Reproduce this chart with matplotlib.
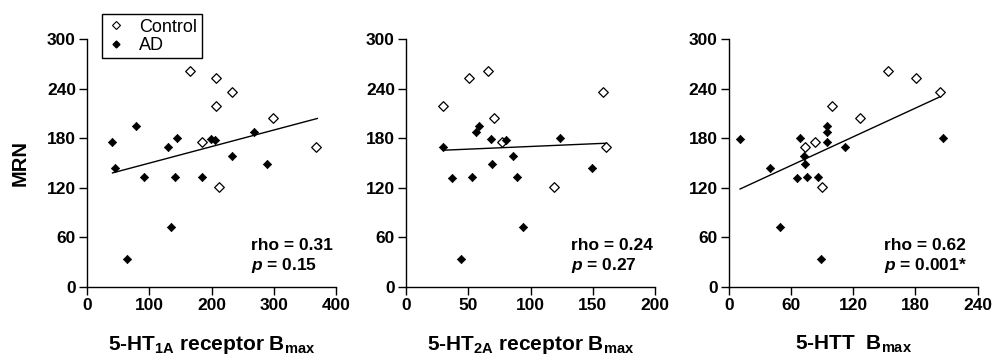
import matplotlib
matplotlib.use("Agg")
import matplotlib.pyplot as plt
from matplotlib.lines import Line2D

plt.rcParams['font.family'] = ['Liberation Sans', 'DejaVu Sans']
plt.rcParams['mathtext.fontset'] = 'custom'
plt.rcParams['mathtext.rm'] = 'Liberation Sans:bold'
plt.rcParams['mathtext.bf'] = 'Liberation Sans:bold'
plt.rcParams['mathtext.it'] = 'Liberation Sans:bold:italic'
plt.rcParams['mathtext.default'] = 'bf'

# ---- data ----
mrn_control = [261, 253, 236, 219, 205, 176, 169, 121]

ht1a_control = [165, 207, 233, 207, 298, 184, 368, 212]
ht1a_ad_x = [40, 45, 79, 91, 64, 130, 145, 135, 142, 185, 199, 206, 233, 268, 289]
ht1a_ad_y = [175, 144, 195, 133, 33, 169, 180, 72, 133, 133, 179, 178, 159, 188, 149]

ht2a_control_x = [66, 51, 158, 30, 71, 77, 161, 119]
ht2a_control_y = [261, 253, 236, 219, 205, 176, 169, 121]
ht2a_ad_x = [30, 37, 44, 53, 56, 59, 68, 69, 80, 86, 89, 94, 124, 149]
ht2a_ad_y = [169, 132, 33, 133, 188, 195, 179, 149, 178, 159, 133, 72, 180, 144]

htt_control = [154, 181, 204, 100, 127, 83, 74, 90]
htt_ad_x = [11, 40, 49, 66, 69, 73, 74, 75, 86, 89, 95, 95, 95, 112, 207]
htt_ad_y = [179, 144, 72, 132, 180, 159, 149, 133, 133, 33, 195, 188, 175, 169, 180]

fit1_x, fit1_y = [41, 370], [138, 204]
fit2_x, fit2_y = [30, 161], [165.5, 174]
fit3_x, fit3_y = [11, 204], [118.5, 230.5]

xlabels = [r'5-HT$_{1A}$ receptor B$_{max}$', r'5-HT$_{2A}$ receptor B$_{max}$', r'5-HTT  B$_{max}$']
xlims = [400, 200, 240]
xticks = [[0, 100, 200, 300, 400], [0, 50, 100, 150, 200], [0, 60, 120, 180, 240]]
yticks = [0, 60, 120, 180, 240, 300]
stats = [(r'rho = 0.31', r'$\mathit{p}$ = 0.15'),
         (r'rho = 0.24', r'$\mathit{p}$ = 0.27'),
         (r'rho = 0.62', r'$\mathit{p}$ = 0.001*')]

panels = [
    (ht1a_control, mrn_control, ht1a_ad_x, ht1a_ad_y, fit1_x, fit1_y),
    (ht2a_control_x, ht2a_control_y, ht2a_ad_x, ht2a_ad_y, fit2_x, fit2_y),
    (htt_control, mrn_control, htt_ad_x, htt_ad_y, fit3_x, fit3_y),
]

W, H = 1005, 362
fig = plt.figure(figsize=(W / 100, H / 100), dpi=100)
lefts = [87, 406, 728.7]
ax_w = 249
ax_bottom = 286.7
ax_top = 39.3
stat_x = [0.66, 0.661, 0.624]

for i, (cx, cy, ax_x, ax_y, fx, fy) in enumerate(panels):
    ax = fig.add_axes([lefts[i] / W, (H - ax_bottom) / H, ax_w / W, (ax_bottom - ax_top) / H])
    ax.plot(fx, fy, color='black', lw=1.0)
    ax.scatter(cx, cy, marker='D', s=24, facecolors='white', edgecolors='black', linewidths=0.9, clip_on=False, zorder=3)
    ax.scatter(ax_x, ax_y, marker='D', s=18, facecolors='black', edgecolors='black', linewidths=0.5, clip_on=False, zorder=3)
    ax.set_xlim(0, xlims[i])
    ax.set_ylim(0, 300)
    ax.set_xticks(xticks[i])
    ax.set_yticks(yticks)
    for s in ['top', 'right']:
        ax.spines[s].set_visible(False)
    for s in ['left', 'bottom']:
        ax.spines[s].set_linewidth(1.0)
    ax.tick_params(direction='out', length=6, width=1.0, labelsize=12.5, pad=2)
    for lab in ax.get_xticklabels() + ax.get_yticklabels():
        lab.set_fontweight('bold')
    ax.set_xlabel(xlabels[i], fontsize=15, fontweight='bold', labelpad=15)
    ax.text(stat_x[i], 0.165, stats[i][0], transform=ax.transAxes, fontsize=12.5,
            fontweight='bold', va='center', ha='left')
    ax.text(stat_x[i], 0.084, stats[i][1], transform=ax.transAxes, fontsize=12.5,
            fontweight='bold', va='center', ha='left')
    if i == 0:
        ax.set_ylabel('MRN', fontsize=14.5, fontweight='bold', labelpad=12)
        handles = [
            Line2D([], [], marker='D', ls='none', markersize=4, markerfacecolor='white',
                   markeredgecolor='black', markeredgewidth=0.8),
            Line2D([], [], marker='D', ls='none', markersize=3.5, markerfacecolor='black',
                   markeredgecolor='black'),
        ]
        leg = fig.legend(handles, ['Control', 'AD'], loc='upper left',
                         bbox_to_anchor=(102 / W, 1 - 14 / H), fontsize=13,
                         frameon=True, fancybox=False, framealpha=1, edgecolor='black',
                         borderpad=0.25, labelspacing=0.08, handletextpad=0.8,
                         handlelength=1.0, borderaxespad=0)
        leg.get_frame().set_linewidth(1.0)

fig.savefig('out.png', dpi=100)
